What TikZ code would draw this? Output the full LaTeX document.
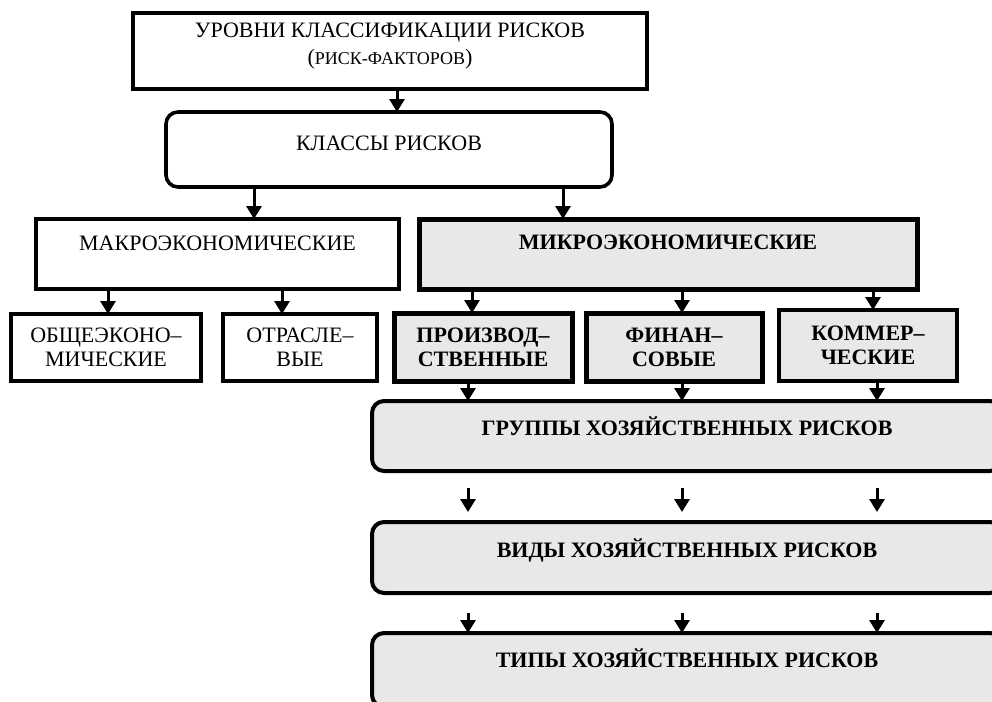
\documentclass[tikz,border=0pt]{standalone}
\usepackage{fontspec}
\setmainfont{Liberation Serif}
\usepackage{tikz}
\usetikzlibrary{positioning, arrows.meta, calc}
\definecolor{boxgray}{RGB}{232,232,232}

\begin{document}
\begin{tikzpicture}[x=1pt, y=-1pt,
    every node/.style={anchor=north west, inner sep=0pt, outer sep=0pt, align=center},
    box/.style={draw, line width=4pt, font=\fontsize{22}{24}\selectfont},
    gbox/.style={box, fill=boxgray, font=\fontsize{22}{24}\selectfont\bfseries},
    rbox/.style={gbox, rounded corners=12pt, minimum width=630pt},
    arr/.style={line width=3pt, -{Triangle[width=15pt,length=13pt]}}]
    \clip (0,0) rectangle (992,701);
    % levels and classes
    \node[box, font=\fontsize{22}{27}\selectfont, minimum width=514pt, minimum height=76pt,
        text height=51.5pt, text depth=24.5pt] (levels) at (133,13)
        {УРОВНИ КЛАССИФИКАЦИИ РИСКОВ\\({\fontsize{18}{27}\selectfont РИСК-ФАКТОРОВ})};
    \node[box, rounded corners=12pt, line width=3.6pt, minimum width=446pt,
        text height=38pt, text depth=37pt] (classes) at (166,112) {КЛАССЫ РИСКОВ};
    \node[box, line width=3.3pt, minimum width=363pt, text height=31pt, text depth=39pt]
        (macro) at (36,219) {МАКРОЭКОНОМИЧЕСКИЕ};
    \node[gbox, line width=5pt, minimum width=498pt, text height=30pt, text depth=40pt]
        (micro) at (419,219) {МИКРОЭКОНОМИЧЕСКИЕ};
    % risk factors
    \node[box, minimum width=190pt, minimum height=67pt] (general) at (11,314) {ОБЩЕЭКОНО–\\МИЧЕСКИЕ};
    \node[box, minimum width=154pt, minimum height=67pt] (branch) at (223,314) {ОТРАСЛЕ–\\ВЫЕ};
    \node[gbox, line width=5pt, minimum width=178pt, minimum height=68pt] (prod) at (394,313) {ПРОИЗВОД–\\СТВЕННЫЕ};
    \node[gbox, line width=5pt, minimum width=176pt, minimum height=68pt] (fin) at (586,313) {ФИНАН–\\СОВЫЕ};
    \node[gbox, minimum width=178pt, minimum height=71pt] (comm) at (779,310) {КОММЕР–\\ЧЕСКИЕ};
    % groups, kinds, types
    \node[rbox, text height=34pt, text depth=36pt] (groups) at (372,401) {ГРУППЫ ХОЗЯЙСТВЕННЫХ РИСКОВ};
    \node[rbox, text height=35pt, text depth=36pt] (kinds) at (372,522) {ВИДЫ ХОЗЯЙСТВЕННЫХ РИСКОВ};
    \node[rbox, text height=34pt, text depth=40pt] (types) at (372,633) {ТИПЫ ХОЗЯЙСТВЕННЫХ РИСКОВ};

    \draw[arr] (levels.south -| 397,0) -- (classes.north -| 397,0);
    \draw[arr] (classes.south -| 254,0) -- (macro.north -| 254,0);
    \draw[arr] (classes.south -| 563,0) -- (micro.north -| 563,0);
    \foreach \x/\b in {108/general, 282/branch} {
        \draw[arr] (macro.south -| \x,0) -- (\b.north -| \x,0);
    }
    \foreach \x/\b in {472/prod, 682/fin, 873/comm} {
        \draw[arr] (micro.south -| \x,0) -- (\b.north -| \x,0);
    }
    \foreach \x/\b in {468/prod, 682/fin, 877/comm} {
        \draw[arr] (\b.south -| \x,0) -- (groups.north -| \x,0);
    }
    \foreach \x in {468,682,877} {
        \draw[arr] ($(groups.south -| \x,0)+(0,17)$) -- ($(kinds.north -| \x,0)+(0,-10)$);
        \draw[arr] ($(kinds.south -| \x,0)+(0,20)$) -- (types.north -| \x,0);
    }
\end{tikzpicture}
\end{document}
